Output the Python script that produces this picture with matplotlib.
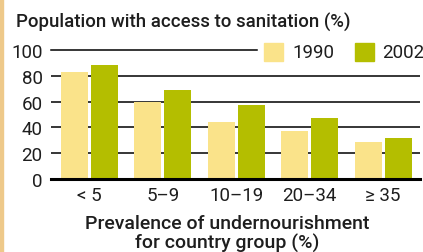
import matplotlib
matplotlib.use("Agg")
import matplotlib.pyplot as plt
from matplotlib.patches import Rectangle
import numpy as np

categories = ["< 5", "5\u20139", "10\u201319", "20\u201334", "\u2265 35"]
v1990 = [83, 60, 44, 37, 29]
v2002 = [88, 69, 57, 47, 32]
yticks = [0, 20, 40, 60, 80, 100]
series_labels = ["1990", "2002"]
c1990 = "#FAE38A"
c2002 = "#B4BE00"

plt.rcParams['font.family'] = ['Roboto', 'DejaVu Sans']

W, H = 423, 253
fig = plt.figure(figsize=(W/100, H/100), dpi=100)
fig.patch.set_facecolor("white")

x0, x1 = 51, 420
ytop, ybot = 51, 180
ax = fig.add_axes([x0/W, 1-ybot/H, (x1-x0)/W, (ybot-ytop)/H])
ax.set_facecolor("none")

x = np.arange(len(categories))
bw = 0.368
off = 0.204
ax.bar(x-off, v1990, width=bw, color=c1990, zorder=3)
ax.bar(x+off, v2002, width=bw, color=c2002, zorder=3)
ax.set_xlim(-0.525, 4.503)
ax.set_ylim(0, 100)

for y in yticks[1:-1]:
    ax.axhline(y, color="black", lw=1.1, zorder=1)
ax.axhline(100, xmin=0, xmax=(257-51)/(420-51), color="black", lw=1.1, zorder=1, clip_on=False)
ax.axhline(0, color="black", lw=2.2, zorder=4, clip_on=False)

for s in ax.spines.values():
    s.set_visible(False)
tc = "#1e1e1e"
ax.set_yticks(yticks)
ax.set_yticklabels([str(v) for v in yticks], fontsize=13.5, color=tc)
ax.set_xticks(x)
ax.set_xticklabels(categories, fontsize=13.5, color=tc)
ax.tick_params(axis="y", length=0, pad=6)
ax.tick_params(axis="x", length=0, pad=5)

fig.text(16/W, 1-22/H, "Population with access to sanitation (%)", fontsize=13.4,
         fontweight="medium", ha="left", va="center", color=tc)
fig.text(227/W, 1-234/H, "Prevalence of undernourishment\nfor country group (%)",
         fontsize=14, fontweight="medium", ha="center", va="center",
         linespacing=1.0, color=tc)

# legend
for (lx, tx, col, lab) in [(264, 292, c1990, series_labels[0]), (355, 382, c2002, series_labels[1])]:
    fig.patches.append(Rectangle((lx/W, 1-62/H), 19/W, 18/H, transform=fig.transFigure,
                                 color=col, figure=fig))
    fig.text(tx/W, 1-53/H, lab, fontsize=13.5, ha="left", va="center", color=tc)

# left decorative strip
fig.patches.append(Rectangle((0, 0), 2.5/W, 1, transform=fig.transFigure,
                             color="#EEC98A", figure=fig))

fig.savefig("out.png", dpi=100)
